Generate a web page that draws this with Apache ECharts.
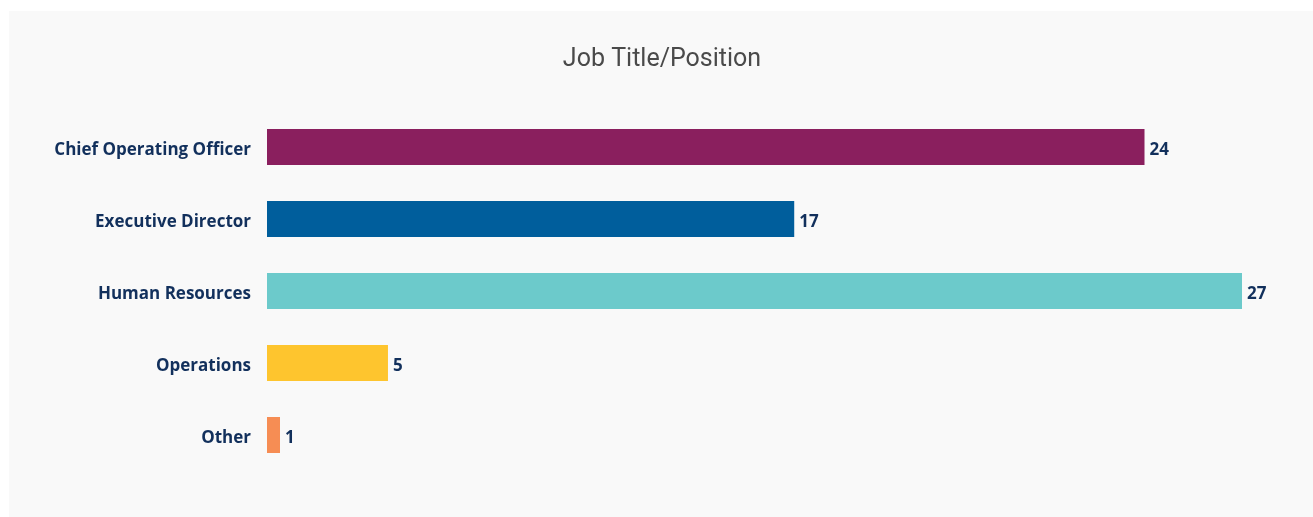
<!DOCTYPE html>
<html>
<head>
<meta charset="utf-8">
<script src="https://cdn.jsdelivr.net/npm/echarts@6/dist/echarts.min.js"></script>
<style>
  html, body { margin: 0; padding: 0; background: #ffffff; }
  #chart { width: 1313px; height: 517px; }
</style>
</head>
<body>
<div id="chart"></div>
<script>
// Categories top to bottom
const categories = ['Chief Operating Officer', 'Executive Director', 'Human Resources', 'Operations', 'Other'];
// Counts shown as labels
const counts = [24, 17, 27, 5, 1];
// Bar lengths as drawn in the picture (axis units, 0..27)
const barLengths = [24.3, 14.6, 27, 3.35, 0.36];
const barColors = ['#8a1f5e', '#005e9c', '#6ccacb', '#fec52e', '#f68d54'];

const chart = echarts.init(document.getElementById('chart'));

const labelFont = {
  fontFamily: 'Open Sans',
  fontWeight: 'bold',
  fontSize: 17,
  color: '#12305c'
};

const option = {
  backgroundColor: '#ffffff',
  animation: false,
  graphic: [{
    type: 'rect',
    z: -10,
    shape: { x: 9, y: 11, width: 1304, height: 506 },
    style: { fill: '#f9f9f9' }
  }],
  title: {
    text: 'Job Title/Position',
    left: 657,
    textAlign: 'center',
    top: 42,
    textStyle: { fontFamily: 'Roboto', fontWeight: 'normal', fontSize: 25, color: '#4a4a4a' }
  },
  grid: { left: 267, right: 71, top: 111, bottom: 46, containLabel: false },
  xAxis: {
    type: 'value',
    min: 0,
    max: 27,
    show: false
  },
  yAxis: {
    type: 'category',
    inverse: true,
    data: categories,
    axisLine: { show: false },
    axisTick: { show: false },
    axisLabel: {
      margin: 16,
      formatter: v => '{a|' + v + '}',
      rich: { a: Object.assign({ padding: [6, 0, 0, 0] }, labelFont) }
    }
  },
  series: [{
    type: 'bar',
    barWidth: 36,
    data: barLengths.map((v, i) => ({ value: v, itemStyle: { color: barColors[i] } })),
    label: Object.assign({
      show: true,
      position: 'right',
      distance: 5,
      offset: [0, 3],
      formatter: p => counts[p.dataIndex]
    }, labelFont)
  }]
};

chart.setOption(option);
</script>
</body>
</html>
